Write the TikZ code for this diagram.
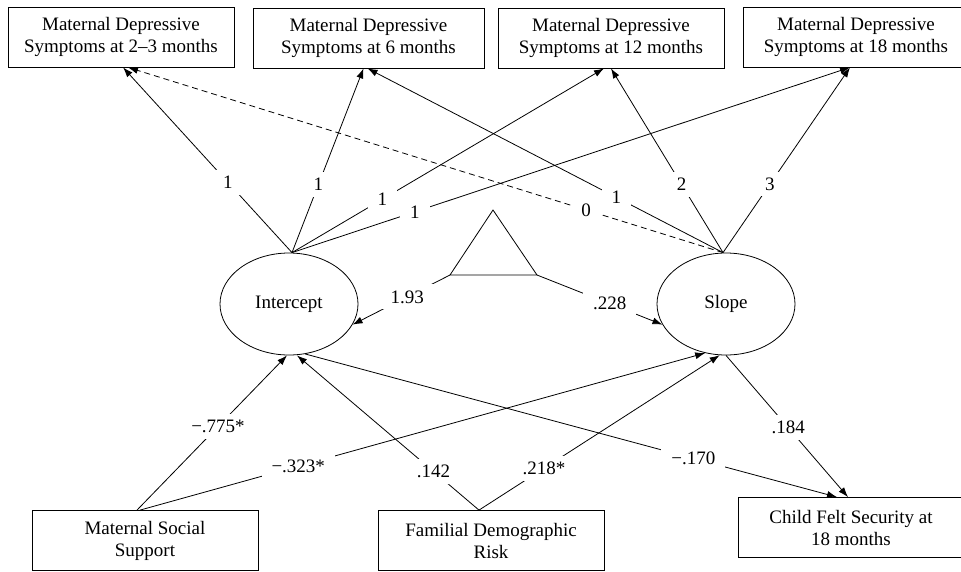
\documentclass[tikz,border=0pt]{standalone}
\usepackage{fontspec}
\setmainfont{Liberation Serif}
\usetikzlibrary{arrows.meta}
\usetikzlibrary{shapes.geometric}

\begin{document}
\begin{tikzpicture}[x=1pt,y=-1pt,font=\fontsize{19}{22}\selectfont,
	box/.style={draw,line width=0.8pt,rectangle,align=center,minimum width=226pt,minimum height=60pt,inner sep=0pt},
	latent/.style={draw,line width=0.8pt,ellipse,minimum width=138pt,minimum height=102pt,inner sep=0pt},
	path/.style={line width=0.8pt,-{Latex[length=10pt,width=7pt]}},
	fixed/.style={path,dash pattern=on 6pt off 4pt},
	lab/.style={fill=white,inner xsep=10pt,inner ysep=6pt}]
	\useasboundingbox (0,0) rectangle (961,571);
	
	\node[box] (dep1) at (121,37) {Maternal Depressive\\Symptoms at 2–3 months};
	\node[box,minimum width=231pt] (dep2) at (368.5,38) {Maternal Depressive\\Symptoms at 6 months};
	\node[box] (dep3) at (611,38) {Maternal Depressive\\Symptoms at 12 months};
	\node[box] (dep4) at (856,37) {Maternal Depressive\\Symptoms at 18 months};
	
	\node[latent] (int) at (289,304) {Intercept};
	\node[latent] (slope) at (726,304) {Slope};
	
	\node[box] (mss) at (145,540.5) {Maternal Social\\Support};
	\node[box] (fdr) at (491,540.5) {Familial Demographic\\Risk};
	\node[box] (cfs) at (851,527.5) {Child Felt Security at\\18 months};
	
	\coordinate (itop) at ([xshift=3pt]int.north);
	\coordinate (stop) at ([xshift=-3pt]slope.north);
	\coordinate (tapex) at (493,210);
	\coordinate (tleft) at (450,275);
	\coordinate (tright) at (537,275);
	
	\draw[path] (itop) -- node[lab,pos=0.38] {1} ([xshift=2pt]dep1.south);
	\draw[path] (itop) -- node[lab,pos=0.37] {1} ([xshift=-5pt]dep2.south);
	\draw[path] (itop) -- node[lab,pos=0.29] {1} ([xshift=-7pt]dep3.south);
	\draw[path] (itop) -- node[lab,pos=0.22] {1} ([xshift=-6pt]dep4.south);
	\draw[fixed] (stop) -- node[lab,pos=0.23] {0} ([xshift=7pt]dep1.south);
	\draw[path] (stop) -- node[lab,pos=0.3] {1} ([xshift=-1pt]dep2.south);
	\draw[path] (stop) -- node[lab,pos=0.37] {2} (dep3.south);
	\draw[path] (stop) -- node[lab,pos=0.37] {3} ([xshift=-6pt]dep4.south);
	
	\draw[line width=0.8pt] (tapex) -- (tleft) -- (tright) -- cycle;
	\draw[path] (tleft) -- node[lab,pos=0.44] {1.93} (int.-18);
	\draw[path] (tright) -- node[lab,pos=0.58] {.228} (slope.198);
	
	\draw[path] ([xshift=-8pt]mss.north) -- node[lab,pos=0.54] {−.775*} ([xshift=-2pt]int.south);
	\draw[path] ([xshift=-5pt]mss.north) -- node[lab,pos=0.28] {−.323*} (slope.-113);
	\draw[path] ([xshift=-12pt]fdr.north) -- node[lab,pos=0.25] {.142} ([xshift=8pt]int.south);
	\draw[path] ([xshift=-12pt]fdr.north) -- node[lab,pos=0.27] {.218*} (slope.-97);
	\draw[path] (int.-72) -- node[lab,pos=0.73] {−.170} ([xshift=-14pt]cfs.north);
	\draw[path] (slope.south) -- node[lab,pos=0.51] {.184} ([xshift=-3pt]cfs.north);
\end{tikzpicture}
\end{document}
